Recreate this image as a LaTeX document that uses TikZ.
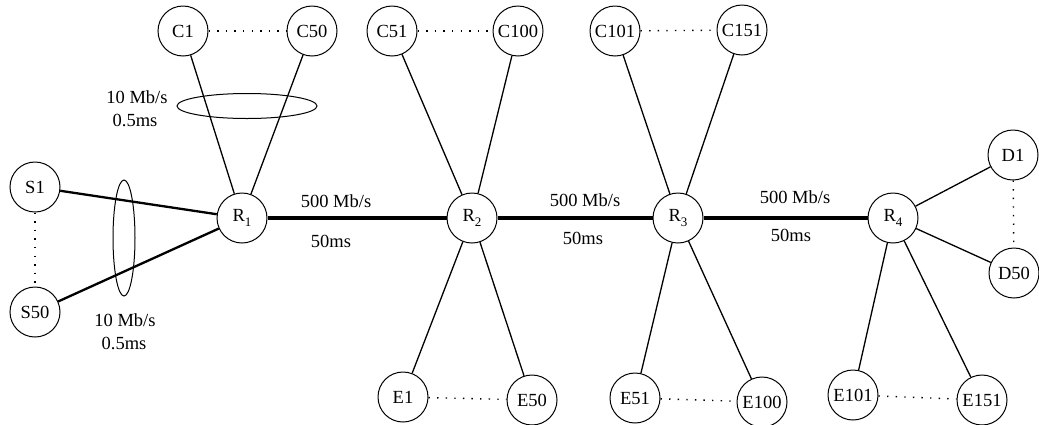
\documentclass[tikz,border=0pt]{standalone}
\usepackage{fontspec}
\setmainfont{Liberation Serif}
\begin{document}
\begin{tikzpicture}[x=1pt,y=-1pt,
  host/.style={draw,circle,line width=1pt,minimum size=50pt,inner sep=0pt,font=\fontsize{18.5}{21}\selectfont},
  thin/.style={line width=1.3pt},
  thick2/.style={line width=2.3pt},
  core/.style={line width=3.3pt},
  dots/.style={line width=1.4pt,dash pattern=on 1.4pt off 7.2pt},
  lbl/.style={font=\fontsize{18.5}{21}\selectfont,inner sep=0pt}]
\useasboundingbox (0,0) rectangle (1039,424);
\newcommand{\rsub}[1]{R\raisebox{-0.55ex}{\fontsize{13}{13}\selectfont #1}}
% hosts
\node[host] (S1) at (35,187) {S1};
\node[host] (S50) at (35,312) {S50};
\node[host] (R1) at (242,218) {\rsub{1}};
\node[host] (C1) at (183,31) {C1};
\node[host] (C50) at (312,31) {C50};
\node[host] (C51) at (392,31) {C51};
\node[host] (C100) at (518,31) {C100};
\node[host] (R2) at (472,218) {\rsub{2}};
\node[host] (C101) at (615,31) {C101};
\node[host] (C151) at (742,30) {C151};
\node[host] (R3) at (678,218) {\rsub{3}};
\node[host] (R4) at (893,218) {\rsub{4}};
\node[host] (D1) at (1013,155) {D1};
\node[host] (D50) at (1014,273) {D50};
\node[host] (E1) at (403,397) {E1};
\node[host] (E50) at (532,400) {E50};
\node[host] (E51) at (635,398) {E51};
\node[host] (E100) at (762,402) {E100};
\node[host] (E101) at (853,395) {E101};
\node[host] (E151) at (982,400) {E151};
% links
\draw[thick2] (S1) -- (R1);
\draw[thick2] (S50) -- (R1);
\draw[thin] (C1) -- (R1);
\draw[thin] (C50) -- (R1);
\draw[thin] (C51) -- (R2);
\draw[thin] (C100) -- (R2);
\draw[thin] (E1) -- (R2);
\draw[thin] (E50) -- (R2);
\draw[thin] (C101) -- (R3);
\draw[thin] (C151) -- (R3);
\draw[thin] (E51) -- (R3);
\draw[thin] (E100) -- (R3);
\draw[thin] (D1) -- (R4);
\draw[thin] (D50) -- (R4);
\draw[thin] (E101) -- (R4);
\draw[thin] (E151) -- (R4);
\draw[core] (R1) -- (R2);
\draw[core] (R2) -- (R3);
\draw[core] (R3) -- (R4);
% dotted groups
\draw[dots] (C1) -- (C50);
\draw[dots] (C51) -- (C100);
\draw[dots] (C101) -- (C151);
\draw[dots] (S1) -- (S50);
\draw[dots] (D1) -- (D50);
\draw[dots] (E1) -- (E50);
\draw[dots] (E51) -- (E100);
\draw[dots] (E101) -- (E151);
% ellipses
\draw[line width=1pt] (247,106) ellipse [x radius=70, y radius=12.5];
\draw[line width=1pt] (124,238) ellipse [x radius=11, y radius=58];
% labels
\node[lbl] (la) at (137,97) {10 Mb/s};
\node[lbl] (lb) at (135,120) {0.5ms};
\node[lbl] (lc) at (125,320) {10 Mb/s};
\node[lbl] (ld) at (124,343) {0.5ms};
\node[lbl] (l1a) at (336,201) {500 Mb/s};
\node[lbl] (l1b) at (331,241) {50ms};
\node[lbl] (l2a) at (585,200) {500 Mb/s};
\node[lbl] (l2b) at (583,238) {50ms};
\node[lbl] (l3a) at (795,197) {500 Mb/s};
\node[lbl] (l3b) at (791,235) {50ms};
\end{tikzpicture}
\end{document}
